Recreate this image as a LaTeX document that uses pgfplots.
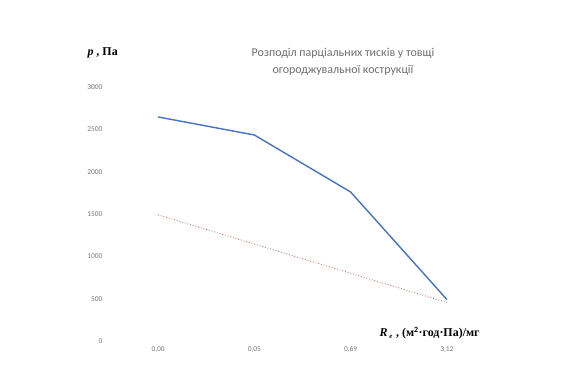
\documentclass[border=0pt]{standalone}
\usepackage{pgfplots}
\pgfplotsset{compat=1.18}
\usepackage{fontspec}
\setmainfont{Carlito}
\newfontfamily\serif{Liberation Serif}
\definecolor{lineblue}{RGB}{68,114,196}
\definecolor{dotred}{RGB}{205,90,90}
\definecolor{ticktxt}{RGB}{120,120,120}
\definecolor{titletxt}{RGB}{110,110,110}
\begin{document}
\begin{tikzpicture}
\path[use as bounding box] (0,0) rectangle (575bp,377bp);
\begin{axis}[
  at={(110bp,36bp)}, anchor=south west,
  scale only axis, width=385bp, height=254bp,
  xmin=-0.5, xmax=3.5, ymin=0, ymax=3000,
  axis line style={draw=none},
  tick style={draw=none},
  xtick={0,1,2,3},
  xticklabels={{0,00},{0,05},{0,69},{3,12}},
  ytick={0,500,1000,1500,2000,2500,3000},
  /pgf/number format/1000 sep={},
  /pgf/number format/assume math mode=true,
  ticklabel style={font=\fontsize{7.5}{8}\selectfont, text=ticktxt},
  xticklabel style={yshift=-2bp},
  yticklabel style={xshift=-4bp},
  clip=false,
]
\addplot[lineblue, line width=1.4pt] coordinates {(0,2646) (1,2433) (2,1760) (3,490)};
\addplot[dotred, line width=0.8pt, dotted] coordinates {(0,1490) (1,1145) (2,800) (3,455)};
\end{axis}
\node[anchor=west, font=\serif\fontsize{12}{14}\selectfont\bfseries] at (84bp,324bp) {\textit{p} , Па};
\node[anchor=west, font=\serif\fontsize{12}{14}\selectfont\bfseries] at (376bp,44bp) {\textit{R}\,$_{\textit{\scriptsize e}}$ , (м$^{\mathbf{2}}$·год·Па)/мг};
\node[align=center, text=titletxt, font=\fontsize{12}{17}\selectfont] at (343bp,315bp) {Розподіл парціальних тисків у товщі\\огороджувальної кострукції};
\end{tikzpicture}
\end{document}
